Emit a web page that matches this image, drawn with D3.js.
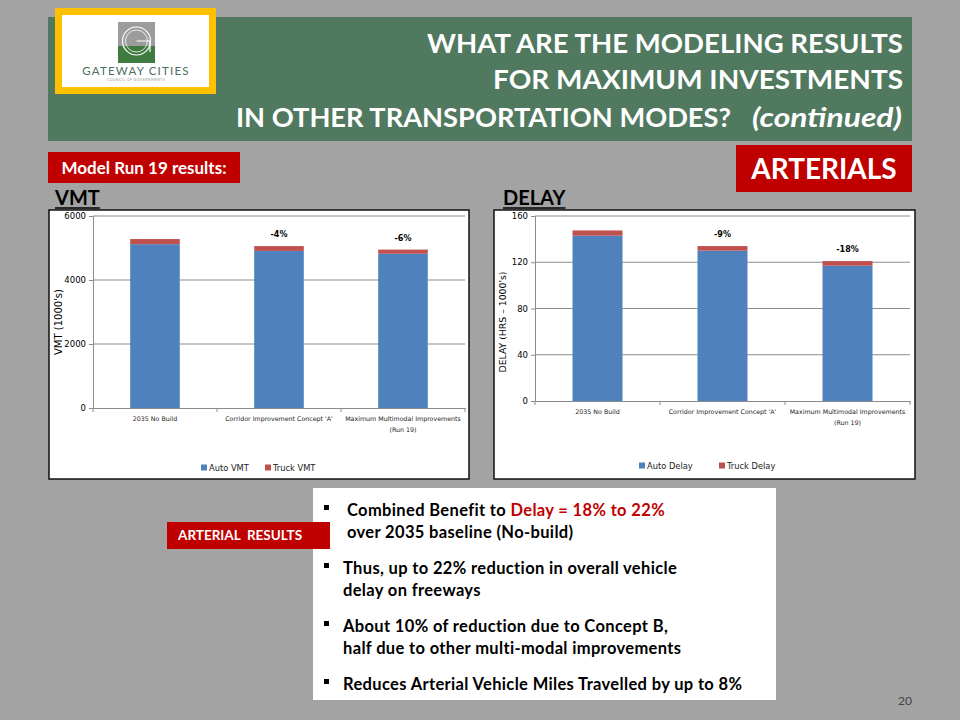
<!DOCTYPE html>
<html>
<head>
<meta charset="utf-8">
<script src="https://cdn.jsdelivr.net/npm/d3@7"></script>
<style>
  body { margin: 0; background: #a3a3a3; }
  svg { display: block; font-family: Lato, "Open Sans", sans-serif; }
</style>
</head>
<body>
<svg id="slide" width="960" height="720"></svg>
<script>
// Data
var categoryLines = [["2035 No Build"], ["Corridor Improvement Concept 'A'"], ["Maximum Multimodal Improvements", "(Run 19)"]];
var autoVMT = [5120, 4910, 4820];
var truckVMT = [160, 150, 130];
var vmtChange = ["", "-4%", "-6%"];
var vmtTicks = [0, 2000, 4000, 6000];
var autoDelay = [143, 130, 117];
var truckDelay = [4.5, 4, 4];
var delayChange = ["", "-9%", "-18%"];
var delayTicks = [0, 40, 80, 120, 160];

var blue = "#4f81bd", red = "#c0504d", darkRed = "#c00000";

var svg = d3.select("#slide");
svg.append("rect").attr("width", 960).attr("height", 720).attr("fill", "#a3a3a3");

// title banner
svg.append("rect").attr("x", 48).attr("y", 17).attr("width", 864).attr("height", 124).attr("fill", "#507960");
var titleLines = [["WHAT ARE THE MODELING RESULTS", 476], ["FOR MAXIMUM INVESTMENTS", 410]];
titleLines.forEach(function(t, i) {
  svg.append("text").attr("x", 903).attr("y", 53 + i * 36)
    .attr("text-anchor", "end").attr("fill", "#fff")
    .attr("font-size", 27).attr("font-weight", "bold")
    .attr("textLength", t[1]).attr("lengthAdjust", "spacingAndGlyphs").text(t[0]);
});
svg.append("text").attr("x", 731).attr("y", 127)
  .attr("text-anchor", "end").attr("fill", "#fff")
  .attr("font-size", 27).attr("font-weight", "bold")
  .attr("textLength", 495).attr("lengthAdjust", "spacingAndGlyphs")
  .text("IN OTHER TRANSPORTATION MODES?");
svg.append("text").attr("x", 902).attr("y", 127)
  .attr("text-anchor", "end").attr("fill", "#fff")
  .attr("font-size", 27).attr("font-weight", "bold").attr("font-style", "italic")
  .attr("textLength", 150).attr("lengthAdjust", "spacingAndGlyphs")
  .text("(continued)");

// logo
svg.append("rect").attr("x", 55).attr("y", 8).attr("width", 161).attr("height", 86).attr("fill", "#ffc000");
svg.append("rect").attr("x", 62).attr("y", 15).attr("width", 147).attr("height", 72).attr("fill", "#fff");
svg.append("rect").attr("x", 118).attr("y", 22).attr("width", 37).attr("height", 24).attr("fill", "#9c9c9c");
svg.append("rect").attr("x", 118).attr("y", 46).attr("width", 37).attr("height", 17).attr("fill", "#3f7a3f");
svg.append("circle").attr("cx", 136.5).attr("cy", 41).attr("r", 14).attr("fill", "none").attr("stroke", "#fff").attr("stroke-width", 1.2);
svg.append("circle").attr("cx", 136.5).attr("cy", 41).attr("r", 11).attr("fill", "none").attr("stroke", "#fff").attr("stroke-width", 0.8);
svg.append("path").attr("d", "M136.5,41 H150 V52").attr("fill", "none").attr("stroke", "#fff").attr("stroke-width", 1.2);
svg.append("text").attr("x", 136).attr("y", 75).attr("text-anchor", "middle").attr("font-size", 11.5)
  .attr("letter-spacing", 1.2).attr("fill", "#4e6e5e").text("GATEWAY CITIES");
svg.append("text").attr("x", 136).attr("y", 81).attr("text-anchor", "middle").attr("font-size", 3.6)
  .attr("letter-spacing", 0.4).attr("fill", "#8a9a90").text("COUNCIL OF GOVERNMENTS");

// red tags
function tag(x, y, w, h, txt, size, tx) {
  svg.append("rect").attr("x", x).attr("y", y).attr("width", w).attr("height", h).attr("fill", darkRed);
  svg.append("text").attr("x", tx || x + w / 2).attr("y", y + h / 2).attr("dy", "0.36em")
    .attr("text-anchor", tx ? "start" : "middle").attr("fill", "#fff").attr("font-weight", "bold")
    .style("white-space", "pre").attr("font-size", size).text(txt);
}
tag(48, 152, 192, 31, "Model Run 19 results:", 17);
tag(736, 145, 176, 47, "ARTERIALS", 28);

// section headers
[["VMT", 55], ["DELAY", 503]].forEach(function(h) {
  var t = svg.append("text").attr("x", h[1]).attr("y", 205).attr("font-size", 20)
    .attr("font-weight", "bold").attr("fill", "#000").text(h[0]);
  var w = t.node().getComputedTextLength();
  svg.append("line").attr("x1", h[1]).attr("x2", h[1] + w).attr("y1", 208).attr("y2", 208)
    .attr("stroke", "#000").attr("stroke-width", 1.5);
});

function drawChart(c) {
  svg.append("rect").attr("x", c.box[0]).attr("y", c.box[1]).attr("width", c.box[2]).attr("height", c.box[3])
    .attr("fill", "#fff").attr("stroke", "#111").attr("stroke-width", 1.5);
  var g = svg.append("g").attr("font-family", "'DejaVu Sans', sans-serif");
  var x = d3.scaleBand().domain(d3.range(3)).range([c.left, c.right]).paddingInner(0).paddingOuter(0);
  var y = d3.scaleLinear().domain([0, c.ticks[c.ticks.length - 1]]).range([c.bottom, c.top]);
  var bw = x.bandwidth() * 0.4;

  // gridlines
  g.selectAll(".grid").data(c.ticks.slice(1)).enter().append("line")
    .attr("x1", c.left).attr("x2", c.right)
    .attr("y1", function(d) { return y(d); }).attr("y2", function(d) { return y(d); })
    .attr("stroke", "#8c8c8c").attr("stroke-width", 1);

  // y axis
  var ya = g.append("g").attr("transform", "translate(" + c.left + ",0)")
    .call(d3.axisLeft(y).tickValues(c.ticks).tickFormat(d3.format("d")).tickSize(4).tickPadding(3));
  ya.select(".domain").attr("stroke", "#8c8c8c");
  ya.selectAll(".tick line").attr("stroke", "#8c8c8c");
  ya.selectAll("text").attr("font-size", 8.5).attr("fill", "#000").attr("font-family", "'DejaVu Sans', sans-serif");

  // bars
  g.selectAll(".auto").data(c.auto).enter().append("rect")
    .attr("x", function(d, i) { return x(i) + x.bandwidth() / 2 - bw / 2; })
    .attr("width", bw)
    .attr("y", function(d) { return y(d); })
    .attr("height", function(d) { return y(0) - y(d); })
    .attr("fill", blue);
  g.selectAll(".truck").data(c.truck).enter().append("rect")
    .attr("x", function(d, i) { return x(i) + x.bandwidth() / 2 - bw / 2; })
    .attr("width", bw)
    .attr("y", function(d, i) { return y(c.auto[i] + d); })
    .attr("height", function(d, i) { return y(c.auto[i]) - y(c.auto[i] + d); })
    .attr("fill", red);

  // change labels
  g.selectAll(".chg").data(c.change).enter().append("text")
    .attr("x", function(d, i) { return x(i) + x.bandwidth() / 2; })
    .attr("y", function(d, i) { return y(c.auto[i] + c.truck[i]) - 9; })
    .attr("text-anchor", "middle").attr("font-size", 8).attr("font-weight", "bold")
    .text(function(d) { return d; });

  // x axis
  var xa = g.append("g").attr("transform", "translate(0," + c.bottom + ")")
    .call(d3.axisBottom(x).tickSize(0).tickFormat(""));
  xa.select(".domain").attr("stroke", "#8c8c8c");
  d3.range(4).forEach(function(i) {
    var xx = i < 3 ? x(i) : c.right;
    g.append("line").attr("x1", xx).attr("x2", xx).attr("y1", c.bottom).attr("y2", c.bottom + 4).attr("stroke", "#8c8c8c");
  });
  categoryLines.forEach(function(lines, i) {
    var t = g.append("text").attr("x", x(i) + x.bandwidth() / 2).attr("y", c.bottom + 13)
      .attr("text-anchor", "middle").attr("font-size", 6.3).attr("fill", "#222");
    lines.forEach(function(l, j) {
      t.append("tspan").attr("x", x(i) + x.bandwidth() / 2).attr("dy", j ? 11 : 0).text(l);
    });
  });

  // y title
  g.append("text").attr("transform", "translate(" + c.ytitleX + "," + c.ytitleY + ") rotate(-90)")
    .attr("text-anchor", "middle").attr("font-size", c.ytitleSize).text(c.ytitle);

  // legend
  c.legend.forEach(function(l, i) {
    g.append("rect").attr("x", l[1]).attr("y", c.legendY - 3.5).attr("width", 6).attr("height", 6)
      .attr("fill", i ? red : blue);
    g.append("text").attr("x", l[1] + 8).attr("y", c.legendY).attr("dy", "0.35em")
      .attr("font-size", 8.3).attr("fill", "#222").text(l[0]);
  });
}

drawChart({
  box: [49, 210, 420, 269], left: 93, right: 465, top: 216, bottom: 408,
  ticks: vmtTicks, auto: autoVMT, truck: truckVMT, change: vmtChange,
  ytitle: "VMT (1000's)", ytitleX: 62, ytitleY: 322, ytitleSize: 10,
  legend: [["Auto VMT", 201], ["Truck VMT", 265]], legendY: 468
});
drawChart({
  box: [494, 210, 421, 269], left: 535, right: 910, top: 216, bottom: 401,
  ticks: delayTicks, auto: autoDelay, truck: truckDelay, change: delayChange,
  ytitle: "DELAY (HRS \u2013 1000's)", ytitleX: 506, ytitleY: 322, ytitleSize: 9.3,
  legend: [["Auto Delay", 639], ["Truck Delay", 719]], legendY: 466
});

// results text box
svg.append("rect").attr("x", 313).attr("y", 488).attr("width", 463).attr("height", 212).attr("fill", "#fff");
tag(167, 522, 163, 27, "ARTERIAL  RESULTS", 13.5, 178);

var bullets = [
  { y: 510, x: 347, lines: [[["Combined Benefit to ", "#000"], ["Delay = 18% to 22%", darkRed]], [["over 2035 baseline (No-build)", "#000"]]] },
  { y: 568, x: 343, lines: [[["Thus, up to 22% reduction in overall vehicle", "#000"]], [["delay on freeways", "#000"]]] },
  { y: 626, x: 343, lines: [[["About 10% of reduction due to Concept B,", "#000"]], [["half due to other multi-modal improvements", "#000"]]] },
  { y: 684, x: 343, lines: [[["Reduces Arterial Vehicle Miles Travelled by up to 8%", "#000"]]] }
];
bullets.forEach(function(b) {
  svg.append("rect").attr("x", 324).attr("y", b.y - 5).attr("width", 5).attr("height", 5).attr("fill", "#000");
  b.lines.forEach(function(line, j) {
    var t = svg.append("text").attr("x", b.x).attr("y", b.y + j * 22.5).attr("dy", "0.35em")
      .attr("font-size", 16.5).attr("letter-spacing", 0.35).attr("font-weight", "bold");
    line.forEach(function(seg) { t.append("tspan").attr("fill", seg[1]).text(seg[0]); });
  });
});

svg.append("text").attr("x", 912).attr("y", 705).attr("text-anchor", "end").attr("font-size", 12)
  .attr("fill", "#444").text("20");
</script>
</body>
</html>
